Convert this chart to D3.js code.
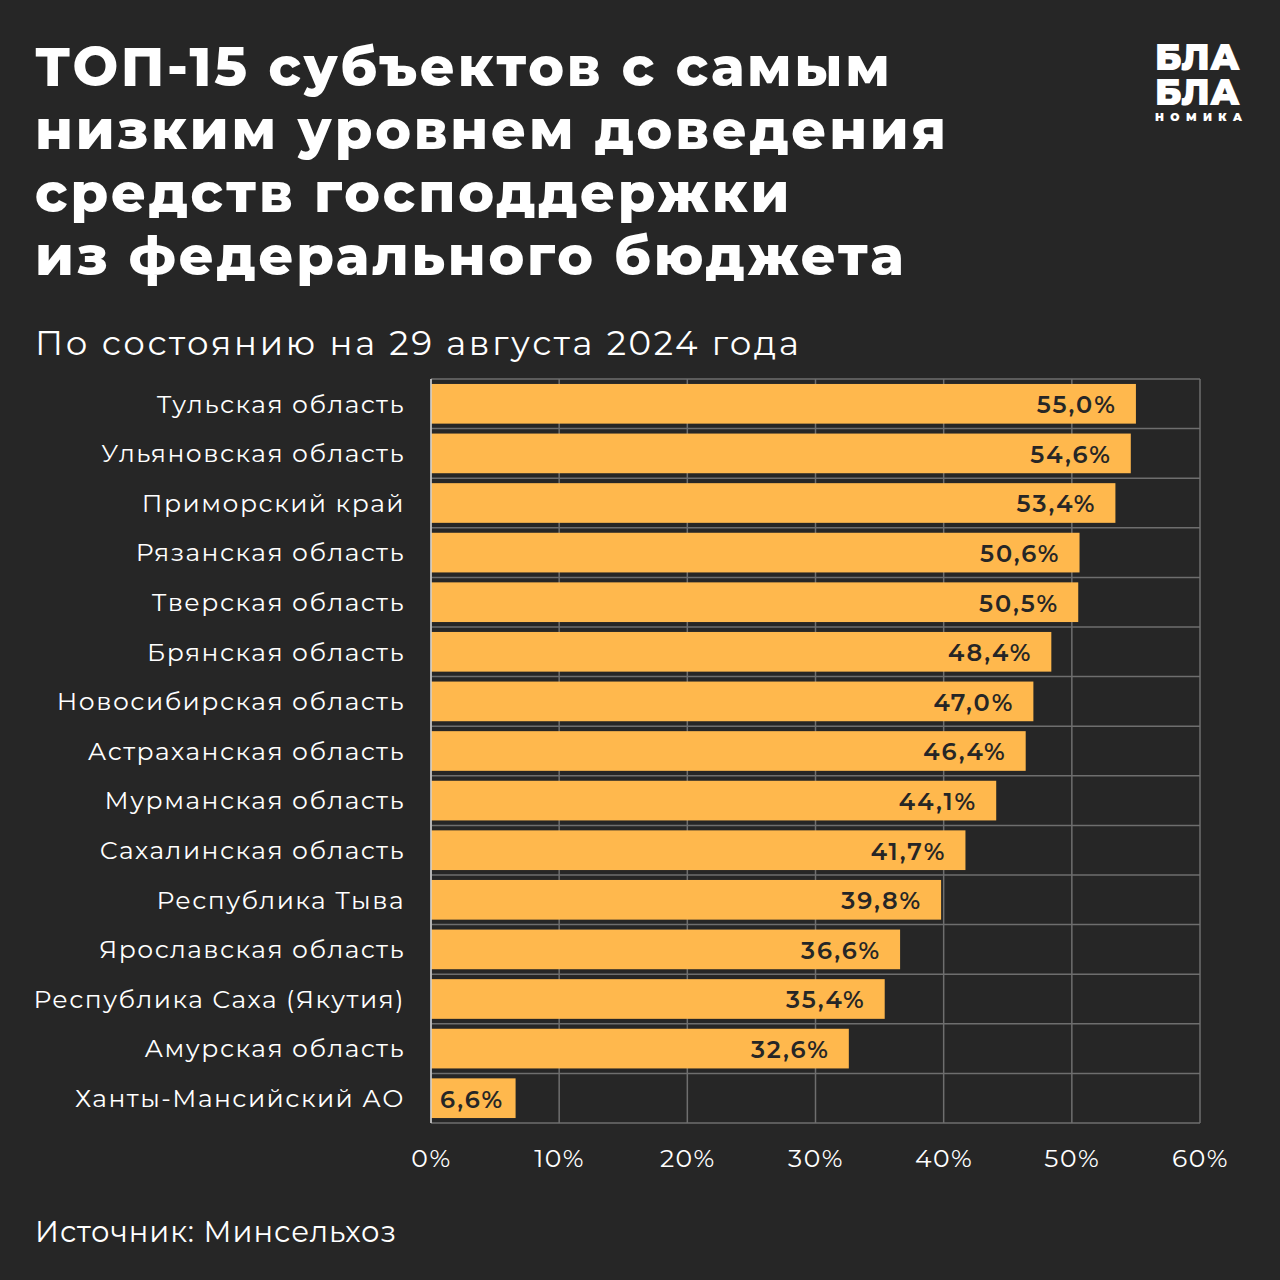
<!DOCTYPE html>
<html><head><meta charset="utf-8">
<script src="https://cdn.jsdelivr.net/npm/d3@7"></script>
<style>
html,body{margin:0;padding:0;background:#262626;}
svg{display:block;}
</style></head><body>
<svg id="chart" width="1280" height="1280"></svg>
<script>
const titleLines = ["ТОП-15 субъектов с самым","низким уровнем доведения","средств господдержки","из федерального бюджета"];
const subtitle = "По состоянию на 29 августа 2024 года";
const source = "Источник: Минсельхоз";
const categories = ["Тульская область","Ульяновская область","Приморский край","Рязанская область","Тверская область","Брянская область","Новосибирская область","Астраханская область","Мурманская область","Сахалинская область","Республика Тыва","Ярославская область","Республика Саха (Якутия)","Амурская область","Ханты-Мансийский АО"];
const values = [55.0,54.6,53.4,50.6,50.5,48.4,47.0,46.4,44.1,41.7,39.8,36.6,35.4,32.6,6.6];
const ticks = [0,10,20,30,40,50,60];

const svg = d3.select("#chart");
const font = "Montserrat, Inter, 'Noto Sans', sans-serif";
svg.append("rect").attr("width",1280).attr("height",1280).attr("fill","#262626");

svg.append("g").selectAll("text").data(titleLines).join("text")
  .attr("x",35).attr("y",(d,i)=>86+i*63)
  .attr("fill","#fff").attr("font-family",font).attr("font-weight",800)
  .attr("font-size",54).attr("letter-spacing",2.8).text(d=>d);

svg.append("text").attr("x",35).attr("y",355).attr("fill","#fff")
  .attr("font-family",font).attr("font-size",34).attr("letter-spacing",2.7).text(subtitle);

// logo
const logo = svg.append("g").attr("font-family",font).attr("fill","#fff").attr("font-weight",900);
logo.append("text").attr("x",1155).attr("y",70).attr("font-size",37)
  .attr("textLength",85).attr("lengthAdjust","spacingAndGlyphs").text("БЛА");
logo.append("text").attr("x",1155).attr("y",105).attr("font-size",37)
  .attr("textLength",85).attr("lengthAdjust","spacingAndGlyphs").text("БЛА");
logo.append("text").attr("x",1155).attr("y",121).attr("font-size",11)
  .attr("textLength",87).attr("lengthAdjust","spacing").text("НОМИКА");

const x = d3.scaleLinear().domain([0,60]).range([431,1200]);
const y = d3.scaleBand().domain(categories).range([379,1123]).paddingInner(0.2).paddingOuter(0.1);
const step = y.step();

// grid
const grid = svg.append("g").attr("stroke","#6e6e6e").attr("stroke-width",1.5);
grid.selectAll("line.v").data(ticks).join("line").attr("class","v")
  .attr("x1",d=>x(d)).attr("x2",d=>x(d)).attr("y1",379).attr("y2",1123);
const bounds = d3.range(categories.length+1);
grid.selectAll("line.h").data(bounds).join("line").attr("class","h")
  .attr("x1",431).attr("x2",1200).attr("y1",i=>379+i*step).attr("y2",i=>379+i*step);

// bars
svg.append("g").selectAll("rect").data(values).join("rect")
  .attr("x",x(0)).attr("y",(d,i)=>y(categories[i]))
  .attr("width",d=>x(d)-x(0)).attr("height",y.bandwidth()).attr("fill","#FFB84D");
svg.append("line").attr("x1",431).attr("x2",431).attr("y1",379).attr("y2",1123).attr("stroke","#d0d0d0").attr("stroke-width",1.5);

// value labels
svg.append("g").selectAll("text").data(values).join("text")
  .attr("y",(d,i)=>y(categories[i])+y.bandwidth()/2+1)
  .attr("dy","0.35em").attr("text-anchor","start")
  .attr("font-family",font).attr("font-weight",600).attr("font-size",24).attr("letter-spacing",2).attr("fill","#262626")
  .text(d=>d.toFixed(1).replace(".",",")+"%")
  .each(function(d){
    const w = this.getComputedTextLength();
    let sx = x(d)-19-w;
    if (sx < x(0)+9) sx = x(0)+9;
    d3.select(this).attr("x", sx);
  });

// category labels
svg.append("g").selectAll("text").data(categories).join("text")
  .attr("x",405).attr("y",d=>y(d)+y.bandwidth()/2)
  .attr("dy","0.35em").attr("text-anchor","end")
  .attr("font-family",font).attr("font-size",25).attr("letter-spacing",1.5).attr("fill","#fff").text(d=>d);

// x axis labels
const axis = d3.axisBottom(x).tickValues(ticks).tickSize(0).tickPadding(0).tickFormat(d=>d+"%");
const ax = svg.append("g").attr("transform","translate(0,1149)").call(axis);
ax.select(".domain").remove();
ax.selectAll("text").attr("font-family",font).attr("font-size",25).attr("letter-spacing",1.5).attr("fill","#fff");

svg.append("text").attr("x",35).attr("y",1242).attr("fill","#fff")
  .attr("font-family",font).attr("font-size",29).attr("letter-spacing",1.0).text(source);
</script>
</body></html>
